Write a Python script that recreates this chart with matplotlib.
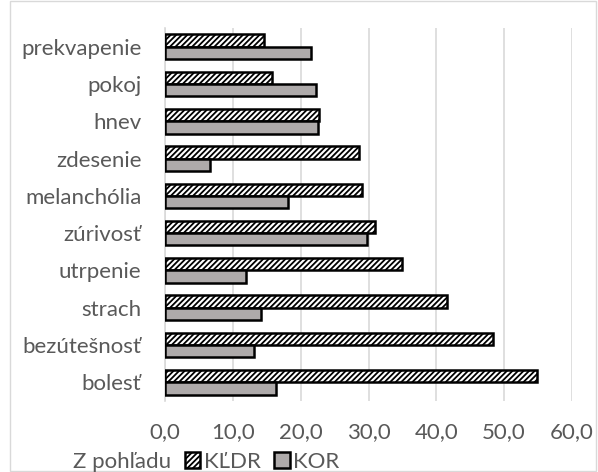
import numpy as np
import matplotlib.pyplot as plt
from matplotlib.patches import Rectangle

plt.rcParams['font.family'] = ['Lato', 'DejaVu Sans']
plt.rcParams['hatch.linewidth'] = 1.3

categories = ['bolesť', 'bezútešnosť', 'strach', 'utrpenie', 'zúrivosť',
              'melanchólia', 'zdesenie', 'hnev', 'pokoj', 'prekvapenie']
kldr = [54.8, 48.4, 41.6, 35.0, 31.0, 29.1, 28.6, 22.7, 15.8, 14.6]
kor = [16.3, 13.1, 14.1, 11.9, 29.8, 18.2, 6.7, 22.6, 22.3, 21.5]
xticks = [0, 10, 20, 30, 40, 50, 60]

fig = plt.figure(figsize=(5.98, 4.72), dpi=100)
ax = fig.add_axes([165 / 598, 1 - 401 / 472, (572 - 165) / 598, (401 - 28) / 472])

y = np.arange(len(categories))
h = 0.33
ax.barh(y + h / 2, kldr, height=h, color='white', edgecolor='black',
        hatch='//////', linewidth=1.8, label='KĽDR', zorder=3)
ax.barh(y - h / 2, kor, height=h, color='#AEAAAA', edgecolor='black',
        linewidth=1.8, label='KOR', zorder=3)

ax.set_xlim(0, 60)
ax.set_ylim(-0.5, len(categories) - 0.5)
ax.set_xticks(xticks)
ax.set_xticklabels([f'{v:.1f}'.replace('.', ',') for v in xticks],
                   fontsize=16, color='#595959')
ax.set_yticks(y)
ax.set_yticklabels(categories, fontsize=16, color='#595959')
ax.tick_params(length=0)
ax.tick_params(axis='y', pad=17)
ax.tick_params(axis='x', pad=15)
ax.grid(axis='x', color='#D9D9D9', linewidth=1.2, zorder=0)
for s in ['top', 'right', 'bottom']:
    ax.spines[s].set_visible(False)
ax.spines['left'].set_color('#D9D9D9')
ax.spines['left'].set_linewidth(1.2)

leg = fig.legend(loc='center', bbox_to_anchor=(262 / 598, 1 - 462 / 472), ncol=2,
                 frameon=False, fontsize=16, handlelength=0.7, handleheight=0.7,
                 handletextpad=0.15, columnspacing=0.6, labelcolor='#595959')
fig.text(73 / 598, 1 - 462 / 472, 'Z pohľadu', fontsize=16, color='#595959',
         va='center', ha='left')

fig.patches.append(Rectangle((10 / 598, 0.002), 1 - 12 / 598, 1 - 0.004,
                             transform=fig.transFigure, fill=False,
                             edgecolor='#D9D9D9', linewidth=1))

fig.savefig('out.png', dpi=100)
